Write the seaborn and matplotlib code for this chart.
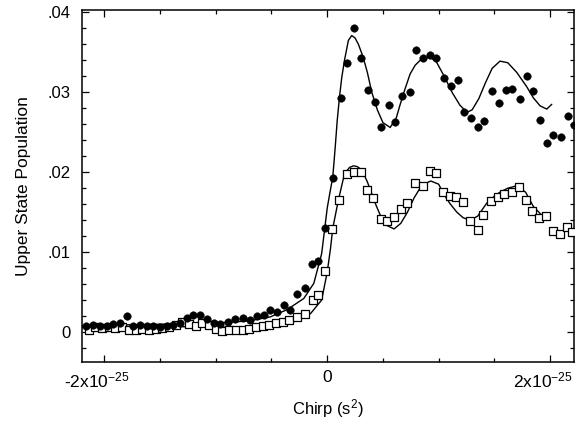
import numpy as np
import pandas as pd
import matplotlib
matplotlib.use('Agg')
import matplotlib.pyplot as plt
import matplotlib.ticker as mticker
import matplotlib.transforms as mtransforms
import seaborn as sns

# chirp in units of 1e-25 s^2
circ_x = [-2.16, -2.10, -2.04, -1.98, -1.92, -1.86, -1.80, -1.74, -1.68, -1.62, -1.56, -1.50,
          -1.44, -1.38, -1.32, -1.26, -1.20, -1.14, -1.08, -1.02, -0.96, -0.89, -0.83, -0.76,
          -0.69, -0.63, -0.57, -0.51, -0.45, -0.39, -0.33, -0.27, -0.20, -0.14, -0.08, -0.02,
          0.05, 0.12, 0.18, 0.24, 0.30, 0.37, 0.43, 0.48, 0.55, 0.61, 0.67, 0.74,
          0.80, 0.86, 0.92, 0.98, 1.05, 1.11, 1.17, 1.23, 1.29, 1.35, 1.41, 1.48,
          1.54, 1.60, 1.66, 1.73, 1.79, 1.85, 1.91, 1.97, 2.03, 2.10, 2.16, 2.21]
circ_y = [0.0007, 0.0009, 0.0008, 0.0008, 0.0010, 0.0011, 0.0020, 0.0008, 0.0009, 0.0008, 0.0007, 0.0006,
          0.0007, 0.0009, 0.0011, 0.0018, 0.0021, 0.0021, 0.0016, 0.0011, 0.0010, 0.0013, 0.0016, 0.0018,
          0.0015, 0.0020, 0.0021, 0.0028, 0.0025, 0.0034, 0.0028, 0.0048, 0.0055, 0.0085, 0.0089, 0.0130,
          0.0193, 0.0293, 0.0337, 0.0381, 0.0343, 0.0303, 0.0288, 0.0256, 0.0284, 0.0263, 0.0295, 0.0300,
          0.0353, 0.0343, 0.0347, 0.0343, 0.0318, 0.0308, 0.0315, 0.0275, 0.0268, 0.0257, 0.0264, 0.0302,
          0.0287, 0.0303, 0.0304, 0.0292, 0.0320, 0.0302, 0.0265, 0.0237, 0.0247, 0.0244, 0.0270, 0.0259]

sq_x = [-2.14, -2.08, -2.02, -1.96, -1.90, -1.84, -1.78, -1.72, -1.66, -1.60, -1.54, -1.48,
        -1.42, -1.36, -1.30, -1.24, -1.18, -1.12, -1.06, -1.00, -0.94, -0.88, -0.82, -0.76,
        -0.70, -0.64, -0.58, -0.52, -0.46, -0.40, -0.34, -0.27, -0.20, -0.13, -0.08, -0.02,
        0.04, 0.11, 0.18, 0.24, 0.30, 0.36, 0.41, 0.48, 0.54, 0.60, 0.66, 0.72,
        0.79, 0.86, 0.92, 0.98, 1.04, 1.10, 1.16, 1.22, 1.28, 1.35, 1.40, 1.47,
        1.53, 1.59, 1.66, 1.72, 1.78, 1.84, 1.90, 1.96, 2.03, 2.09, 2.15, 2.20]
sq_y = [0.0003, 0.0006, 0.0005, 0.0006, 0.0005, 0.0006, 0.0003, 0.0003, 0.0004, 0.0003, 0.0004, 0.0005,
        0.0006, 0.0009, 0.0012, 0.0010, 0.0007, 0.0011, 0.0009, 0.0004, 0.0001, 0.0002, 0.0002, 0.0003,
        0.0004, 0.0006, 0.0007, 0.0009, 0.0011, 0.0013, 0.0015, 0.0019, 0.0023, 0.0040, 0.0046, 0.0076,
        0.0129, 0.0165, 0.0198, 0.0200, 0.0200, 0.0178, 0.0168, 0.0142, 0.0139, 0.0144, 0.0154, 0.0161,
        0.0187, 0.0183, 0.0201, 0.0199, 0.0175, 0.0170, 0.0169, 0.0163, 0.0139, 0.0128, 0.0146, 0.0164,
        0.0169, 0.0173, 0.0175, 0.0181, 0.0165, 0.0152, 0.0143, 0.0145, 0.0127, 0.0123, 0.0132, 0.0125]

fit_hi_x = [-2.2, -1.8, -1.4, -1.1, -0.9, -0.7, -0.51, -0.36, -0.21, -0.12, -0.05, -0.02, 0.0,
            0.025, 0.05, 0.07, 0.09, 0.11, 0.13, 0.155, 0.19, 0.22, 0.25, 0.28, 0.32, 0.36,
            0.40, 0.45, 0.50, 0.565, 0.62, 0.655, 0.70, 0.744, 0.79, 0.834, 0.88, 0.924, 0.98,
            1.05, 1.12, 1.19, 1.253, 1.30, 1.36, 1.42, 1.48, 1.55, 1.62, 1.70, 1.79, 1.85,
            1.91, 1.97, 2.015]
fit_hi_y = [0.0008, 0.0009, 0.0010, 0.0011, 0.0012, 0.0014, 0.0019, 0.0028, 0.0042, 0.0061, 0.0098, 0.0132, 0.0155,
            0.0175, 0.0194, 0.0228, 0.0265, 0.0294, 0.0318, 0.0340, 0.0365, 0.0371, 0.0368, 0.0360, 0.0345, 0.0325,
            0.0300, 0.0278, 0.0262, 0.0256, 0.0268, 0.0285, 0.0305, 0.0323, 0.0334, 0.0340, 0.0343, 0.0344, 0.0338,
            0.0320, 0.0300, 0.0284, 0.0275, 0.0278, 0.0292, 0.0312, 0.0330, 0.0339, 0.0337, 0.0325, 0.0307, 0.0293,
            0.0283, 0.0279, 0.0285]

fit_lo_x = [-2.2, -1.8, -1.4, -1.0, -0.7, -0.51, -0.33, -0.15, -0.05, 0.0, 0.03, 0.05, 0.10, 0.155,
            0.20, 0.236, 0.27, 0.31, 0.36, 0.40, 0.44, 0.48, 0.54, 0.60, 0.66, 0.72, 0.78, 0.85,
            0.93, 1.0, 1.044, 1.10, 1.163, 1.22, 1.283, 1.35, 1.43, 1.50, 1.55, 1.62, 1.70, 1.78,
            1.85, 1.92, 1.985]
fit_lo_y = [0.0006, 0.0006, 0.0007, 0.0006, 0.0006, 0.0007, 0.0011, 0.0023, 0.0040, 0.0075, 0.0105, 0.0130, 0.0165, 0.0198,
            0.0206, 0.0208, 0.0207, 0.0203, 0.0188, 0.0173, 0.0158, 0.0145, 0.0133, 0.0129, 0.0136, 0.0150, 0.0168, 0.0184,
            0.0189, 0.0185, 0.0173, 0.0161, 0.0150, 0.0143, 0.0140, 0.0145, 0.0161, 0.0170, 0.0175, 0.0180, 0.0183, 0.0175,
            0.0157, 0.0147, 0.0140]

circles = pd.DataFrame({'chirp': circ_x, 'pop': circ_y})
squares = pd.DataFrame({'chirp': sq_x, 'pop': sq_y})
fit_hi = pd.DataFrame({'chirp': fit_hi_x, 'pop': fit_hi_y})
fit_lo = pd.DataFrame({'chirp': fit_lo_x, 'pop': fit_lo_y})

sns.set_style('ticks')
plt.rcParams['font.family'] = ['Liberation Sans', 'DejaVu Sans']
plt.rcParams['mathtext.fontset'] = 'custom'
plt.rcParams['mathtext.rm'] = 'Liberation Sans'
plt.rcParams['mathtext.it'] = 'Liberation Sans'
plt.rcParams['text.color'] = 'black'
plt.rcParams['axes.labelcolor'] = 'black'

fig = plt.figure(figsize=(5.87, 4.38), dpi=100)
ax = fig.add_axes([0.1397, 0.1735, 0.8383, 0.8037])

sns.lineplot(data=fit_hi, x='chirp', y='pop', color='black', linewidth=1.0,
             sort=False, estimator=None, ax=ax, zorder=2)
sns.lineplot(data=fit_lo, x='chirp', y='pop', color='black', linewidth=1.0,
             sort=False, estimator=None, ax=ax, zorder=2)
sns.scatterplot(data=squares, x='chirp', y='pop', marker='s', s=28, facecolor='white',
                edgecolor='black', linewidth=0.9, ax=ax, zorder=3)
sns.scatterplot(data=circles, x='chirp', y='pop', marker='o', s=30, color='black',
                edgecolor='black', linewidth=0.3, ax=ax, zorder=4)

ax.set_xlim(-2.2, 2.215)
ax.set_ylim(-0.00375, 0.0403)

ax.xaxis.set_major_locator(mticker.FixedLocator([-2, 0, 2]))
ax.xaxis.set_minor_locator(mticker.MultipleLocator(0.5))
ax.xaxis.set_major_formatter(mticker.FuncFormatter(
    lambda v, p: '0' if v == 0 else '%dx10$^{-25}$' % v))
ax.yaxis.set_major_locator(mticker.MultipleLocator(0.01))
ax.yaxis.set_minor_locator(mticker.MultipleLocator(0.002))
ax.yaxis.set_major_formatter(mticker.FuncFormatter(
    lambda v, p: '0' if abs(v) < 1e-9 else ('%.2f' % v).lstrip('0')))

ax.tick_params(which='both', direction='in', top=True, right=True, color='black', width=0.9)
ax.tick_params(which='major', length=5, labelsize=12, colors='black')
ax.tick_params(axis='x', which='major', labelsize=12.5, pad=6)
ax.tick_params(axis='y', which='major', pad=8)
ax.tick_params(which='minor', length=3)
for s in ax.spines.values():
    s.set_color('black')
    s.set_linewidth(1.1)

# the +/-2 labels sit a little left of their ticks in the original
shift = mtransforms.ScaledTranslation(-7 / 100, 0, fig.dpi_scale_trans)
for lab, v in zip(ax.get_xticklabels(), [-2, 0, 2]):
    if v != 0:
        lab.set_transform(lab.get_transform() + shift)

ax.set_xlabel('Chirp (s$^2$)', fontsize=12, labelpad=5)
ax.set_ylabel('Upper State Population', fontsize=12.5, labelpad=12)

fig.savefig('out.png', dpi=100, facecolor='white')
